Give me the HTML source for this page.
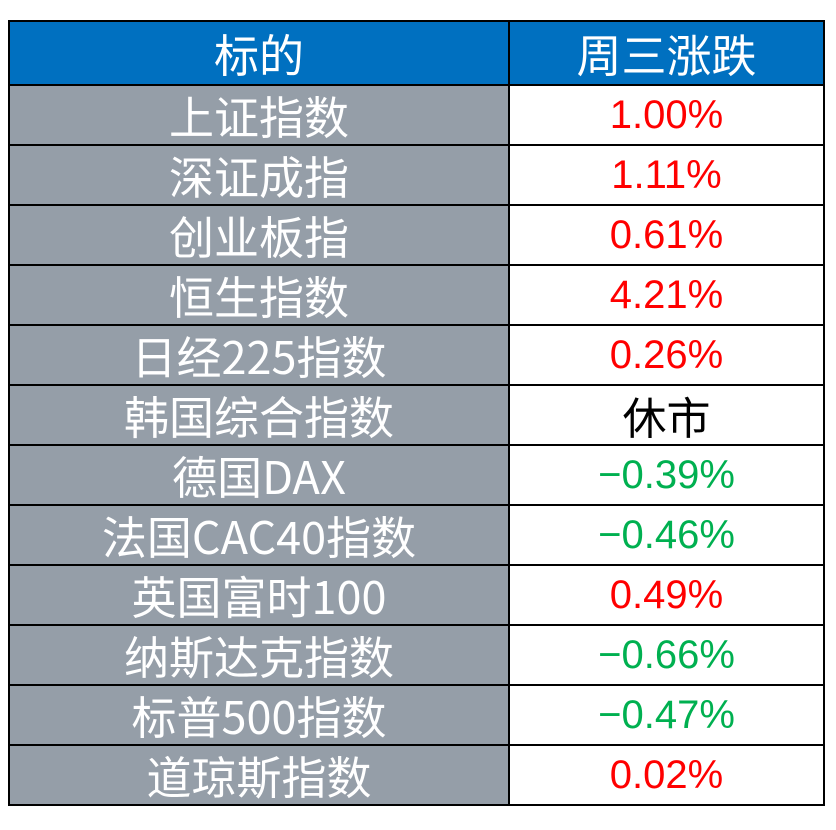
<!DOCTYPE html>
<html><head><meta charset="utf-8"><style>
body{margin:0;width:836px;height:830px;background:#fff;position:relative;overflow:hidden;font-family:"Liberation Sans","Noto Sans CJK SC",sans-serif}
table{position:absolute;left:8px;top:20px;border-collapse:collapse;table-layout:fixed}
td{border:2px solid #000;height:58px;padding:0;text-align:center;font-size:40px;line-height:58px;white-space:nowrap}
td.l{width:498px;background:#959ea8;color:#fff;font-family:"Noto Sans CJK SC",sans-serif;font-size:45px}
td.r{width:313px;background:#fff}
tr.h td{background:#0070c0;color:#fff;height:62px;line-height:62px;font-family:"Noto Sans CJK SC",sans-serif;font-size:45px}
.up{color:#ff0000}.dn{color:#00b050}.bk{color:#000;font-family:"Noto Sans CJK SC",sans-serif;font-size:44px}
.n{letter-spacing:0px}
</style></head><body>
<table>
<tr class="h"><td class="l">标的</td><td class="r">周三涨跌</td></tr>
<tr><td class="l">上证指数</td><td class="r up n">1.00%</td></tr>
<tr><td class="l">深证成指</td><td class="r up n">1.11%</td></tr>
<tr><td class="l">创业板指</td><td class="r up n">0.61%</td></tr>
<tr><td class="l">恒生指数</td><td class="r up n">4.21%</td></tr>
<tr><td class="l">日经225指数</td><td class="r up n">0.26%</td></tr>
<tr><td class="l">韩国综合指数</td><td class="r bk">休市</td></tr>
<tr><td class="l">德国DAX</td><td class="r dn n">−0.39%</td></tr>
<tr><td class="l">法国CAC40指数</td><td class="r dn n">−0.46%</td></tr>
<tr><td class="l">英国富时100</td><td class="r up n">0.49%</td></tr>
<tr><td class="l">纳斯达克指数</td><td class="r dn n">−0.66%</td></tr>
<tr><td class="l">标普500指数</td><td class="r dn n">−0.47%</td></tr>
<tr><td class="l">道琼斯指数</td><td class="r up n">0.02%</td></tr>
</table>
</body></html>
